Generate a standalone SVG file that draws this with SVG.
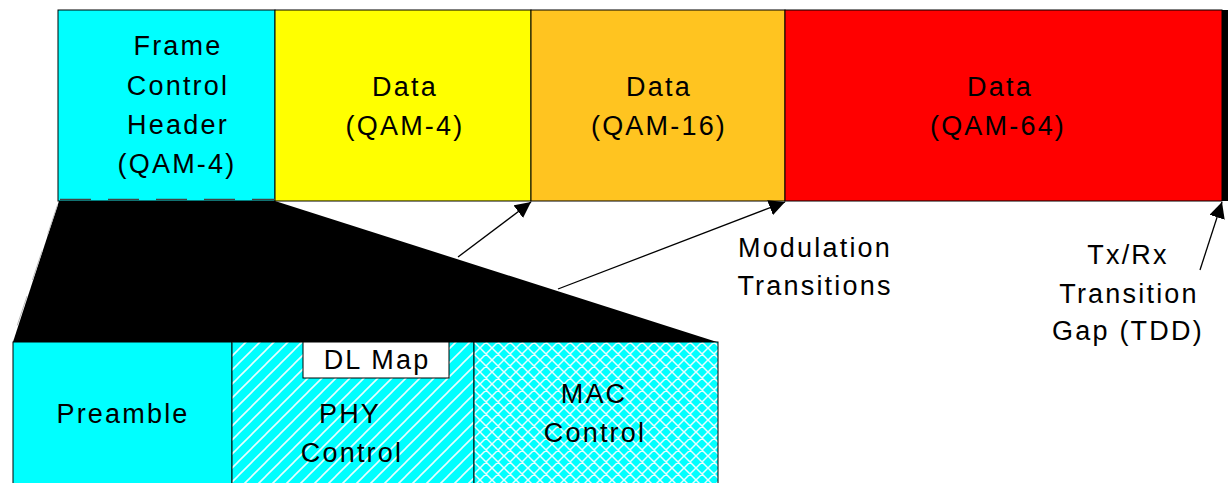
<svg xmlns="http://www.w3.org/2000/svg" width="1228" height="483" viewBox="0 0 1228 483">
  <style>
    .t { font-family: "Liberation Sans", Arial, sans-serif; font-size: 27px; fill: #000; text-anchor: middle; letter-spacing: 2.2px; }
    .box { stroke: #000; stroke-width: 1; }
    .conn { stroke: #000; stroke-width: 1.3; fill: none; marker-end: url(#arrow); }
  </style>
  <defs>
    <marker id="arrow" viewBox="0 0 10 10" refX="10" refY="5" markerWidth="16" markerHeight="16" markerUnits="userSpaceOnUse" orient="auto">
      <path d="M0,0 L10,5 L0,10 z" fill="#000"/>
    </marker>
    <pattern id="diag" patternUnits="userSpaceOnUse" width="14" height="14">
      <rect width="14" height="14" fill="#00FFFF"/>
      <path d="M0,14 L14,0 M-2,2 L2,-2 M12,16 L16,12" stroke="#E8FFFF" stroke-width="1.6"/>
    </pattern>
    <pattern id="cross" patternUnits="userSpaceOnUse" width="12" height="12">
      <rect width="12" height="12" fill="#00FFFF"/>
      <path d="M0,12 L12,0 M-2,2 L2,-2 M10,14 L14,10 M0,0 L12,12 M-2,10 L2,14 M10,-2 L14,2" stroke="#E8FFFF" stroke-width="1.5"/>
    </pattern>
  </defs>

  <rect width="1228" height="483" fill="#FFFFFF"/>

  <g id="fch">
    <rect class="box" x="58" y="10" width="217" height="191" fill="#00FFFF"/>
    <text class="t" x="178" y="55">Frame</text>
    <text class="t" x="178" y="95">Control</text>
    <text class="t" x="178" y="134">Header</text>
    <text class="t" x="177" y="173">(QAM-4)</text>
  </g>
  <g id="data-qam4">
    <rect class="box" x="275" y="10" width="256" height="191" fill="#FFFF00"/>
    <text class="t" x="405" y="96">Data</text>
    <text class="t" x="405" y="135">(QAM-4)</text>
  </g>
  <g id="data-qam16">
    <rect class="box" x="531" y="10" width="254" height="191" fill="#FFC420"/>
    <text class="t" x="659" y="96">Data</text>
    <text class="t" x="659" y="135">(QAM-16)</text>
  </g>
  <g id="data-qam64">
    <rect class="box" x="785" y="10" width="437" height="191" fill="#FF0000"/>
    <text class="t" x="1000" y="96">Data</text>
    <text class="t" x="998" y="135">(QAM-64)</text>
  </g>
  <g id="gap">
    <rect x="1222" y="10" width="6" height="191" fill="#000"/>
  </g>

  <g id="expansion">
    <polygon points="59,201 275,201 717,342 13,342" fill="#000"/>
    <line x1="60" y1="199.5" x2="275" y2="199.5" stroke="#444" stroke-width="1.5" stroke-dasharray="31 17"/>
    <line x1="57.5" y1="205" x2="12" y2="341" stroke="#BBB" stroke-width="1" stroke-dasharray="31 17"/>
  </g>

  <g id="preamble">
    <rect class="box" x="13" y="342" width="219" height="150" fill="#00FFFF"/>
    <text class="t" x="123" y="423">Preamble</text>
  </g>
  <g id="phy-control">
    <rect class="box" x="232" y="342" width="242" height="150" fill="url(#diag)"/>
    <text class="t" x="350" y="423">PHY</text>
    <text class="t" x="352" y="462">Control</text>
  </g>
  <g id="dl-map">
    <rect x="303" y="342" width="146" height="36" fill="#FFFFFF" stroke="#000" stroke-width="1"/>
    <text class="t" x="377" y="369">DL Map</text>
  </g>
  <g id="mac-control">
    <rect class="box" x="474" y="342" width="244" height="150" fill="url(#cross)"/>
    <text class="t" x="594" y="403">MAC</text>
    <text class="t" x="595" y="442">Control</text>
  </g>

  <g id="modulation-label">
    <text class="t" x="815" y="257">Modulation</text>
    <text class="t" x="815" y="295">Transitions</text>
  </g>
  <g id="gap-label">
    <text class="t" x="1128" y="264">Tx/Rx</text>
    <text class="t" x="1129" y="303">Transition</text>
    <text class="t" x="1128" y="340">Gap (TDD)</text>
  </g>

  <g id="connectors">
    <line class="conn" x1="458" y1="257" x2="531" y2="202"/>
    <line class="conn" x1="558" y1="289" x2="785" y2="202"/>
    <line class="conn" x1="1200" y1="270" x2="1222" y2="202"/>
  </g>
</svg>
